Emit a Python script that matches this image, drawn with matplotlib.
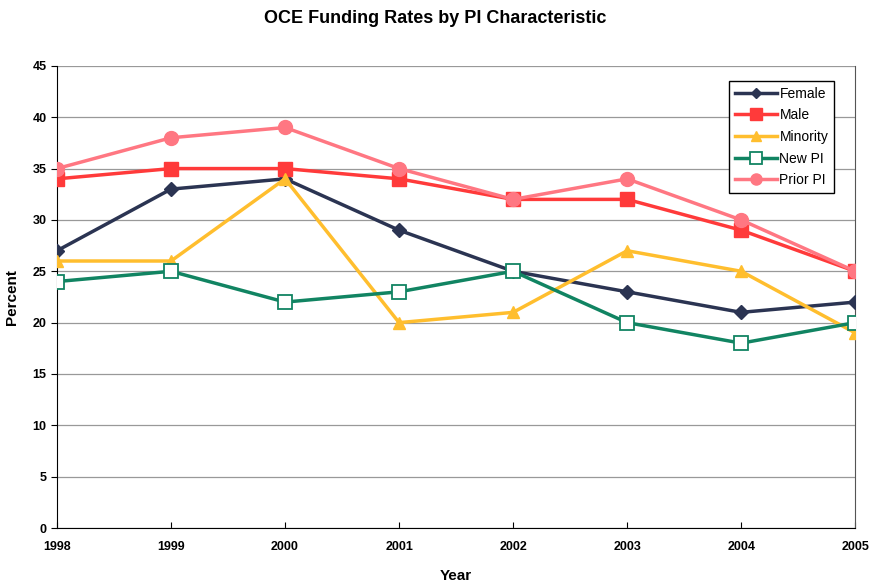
import matplotlib
matplotlib.use('Agg')
import matplotlib.pyplot as plt

years = [1998, 1999, 2000, 2001, 2002, 2003, 2004, 2005]
female = [27, 33, 34, 29, 25, 23, 21, 22]
male = [34, 35, 35, 34, 32, 32, 29, 25]
minority = [26, 26, 34, 20, 21, 27, 25, 19]
new_pi = [24, 25, 22, 23, 25, 20, 18, 20]
prior_pi = [35, 38, 39, 35, 32, 34, 30, 25]

plt.rcParams['font.family'] = ['Liberation Sans', 'DejaVu Sans']

fig = plt.figure(figsize=(8.7, 5.83), dpi=100)
ax = fig.add_axes([0.0655, 0.0943, 0.9175, 0.7927])

ax.plot(years, female, '-D', color='#2b3452', linewidth=2.5, markersize=7, label='Female', zorder=3)
ax.plot(years, male, '-s', color='#ff3a3a', linewidth=2.5, markersize=10, label='Male', zorder=3)
ax.plot(years, minority, '-^', color='#ffbe2e', linewidth=2.5, markersize=9, label='Minority', zorder=3)
ax.plot(years, new_pi, '-s', color='#118462', markerfacecolor='white', markeredgewidth=1.3,
        linewidth=2.5, markersize=10.5, label='New PI', zorder=3)
ax.plot(years, prior_pi, '-o', color='#ff7782', linewidth=2.5, markersize=10, label='Prior PI', zorder=3)

ax.set_xlim(1998, 2005)
ax.set_ylim(0, 45)
ax.set_yticks(range(0, 46, 5))
ax.set_xticks(years)
ax.grid(axis='y', color='#999999', linewidth=0.9)
ax.set_axisbelow(True)
ax.spines['top'].set_visible(False)
ax.spines['right'].set_color('#555555')
ax.spines['left'].set_color('black')
ax.spines['bottom'].set_color('black')
ax.tick_params(axis='x', direction='in', length=4, labelsize=9, pad=9)
ax.tick_params(axis='y', direction='out', length=4, labelsize=9)
for lbl in ax.get_xticklabels() + ax.get_yticklabels():
    lbl.set_fontweight('bold')

ax.set_xlabel('Year', fontsize=11, fontweight='bold', labelpad=12)
ax.set_ylabel('Percent', fontsize=11, fontweight='bold', labelpad=10)
fig.suptitle('OCE Funding Rates by PI Characteristic', fontsize=13, fontweight='bold', y=0.982)

leg = ax.legend(loc='upper right', bbox_to_anchor=(0.982, 0.982), fontsize=10, fancybox=False,
                framealpha=1, edgecolor='black', handlelength=3, handletextpad=0.2,
                borderpad=0.4, labelspacing=0.55, markerscale=0.8)
leg.get_frame().set_linewidth(1.0)

fig.savefig('out.png', dpi=100)
